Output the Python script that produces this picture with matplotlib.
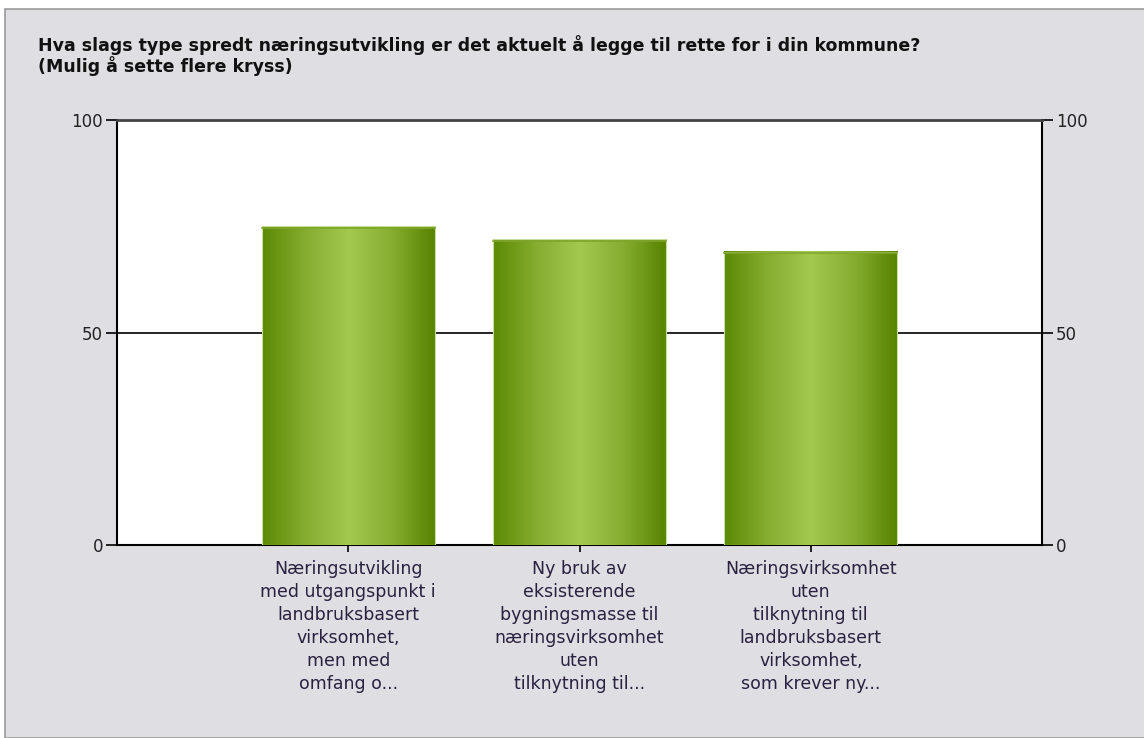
import numpy as np
import matplotlib
matplotlib.use("Agg")
from matplotlib import pyplot as plt
from matplotlib.colors import LinearSegmentedColormap
from matplotlib.patches import Rectangle

title = "Hva slags type spredt næringsutvikling er det aktuelt å legge til rette for i din kommune?\n(Mulig å sette flere kryss)"
categories = [
    "Næringsutvikling\nmed utgangspunkt i\nlandbruksbasert\nvirksomhet,\nmen med\nomfang o...",
    "Ny bruk av\neksisterende\nbygningsmasse til\nnæringsvirksomhet\nuten\ntilknytning til...",
    "Næringsvirksomhet\nuten\ntilknytning til\nlandbruksbasert\nvirksomhet,\nsom krever ny...",
]
values = [75, 72, 69]
yticks = [0, 50, 100]

bg = "#dfdfe3"
fig = plt.figure(figsize=(11.44, 7.38), dpi=100, facecolor="white")
# gray panel with a thin border, as in the screenshot
fig.patches.append(Rectangle((5 / 1144, 0), 1, 1 - 9 / 738, transform=fig.transFigure,
                             facecolor=bg, edgecolor="#9a9a9a", linewidth=1.2, zorder=-10))

ax = fig.add_axes([117 / 1144, 1 - 545 / 738, 925 / 1144, 425 / 738])
ax.set_facecolor("white")

# bars with horizontal green gradient
cmap = LinearSegmentedColormap.from_list("g", ["#5b8a04", "#86ad30", "#a3ca4e", "#86ad30", "#568300"])
grad = np.linspace(0, 1, 256).reshape(1, -1)
xs = np.arange(1, len(values) + 1)
w = 0.75
for x, v in zip(xs, values):
    ax.imshow(grad, cmap=cmap, aspect="auto", extent=(x - w / 2, x + w / 2, 0, v),
              interpolation="bicubic", zorder=3)
    ax.add_patch(Rectangle((x - w / 2, 0), w, v, fill=False, edgecolor="#c8dc9c",
                           linewidth=0.8, zorder=4))
    ax.plot([x - w / 2, x + w / 2], [v - 0.4, v - 0.4], color="#7fa52a", lw=1.2, zorder=4)
ax.set_xlim(0, 4)
ax.set_ylim(0, 100)

ax.axhline(50, color="black", lw=1.2, zorder=2)
for s in ["left", "right", "bottom"]:
    ax.spines[s].set_color("black")
    ax.spines[s].set_linewidth(1.5)
ax.spines["top"].set_color("#444444")
ax.spines["top"].set_linewidth(2)

ax.set_xticks(xs)
ax.set_xticklabels(categories, fontsize=12.5, color="#2a2040", linespacing=1.35)
ax.tick_params(axis="x", length=5, width=1.2, color="black", pad=6)
ax.set_yticks(yticks)
ax.tick_params(axis="y", length=8, width=1.2, color="black", labelsize=12,
               labelcolor="#222222", left=True, right=True, labelleft=True, labelright=True, pad=2)

fig.text(38 / 1144, 1 - 35 / 738, title, fontsize=12.5, fontweight="bold", color="#111111",
         va="top", ha="left", linespacing=1.05)

fig.savefig("out.png", dpi=100, facecolor=fig.get_facecolor())
